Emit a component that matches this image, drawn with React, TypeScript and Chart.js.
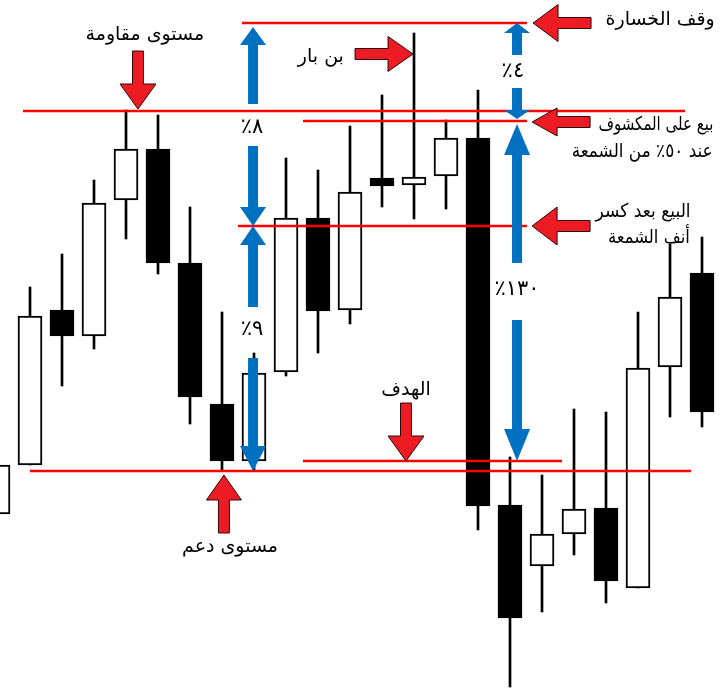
import React, { useEffect, useRef } from "react";
import { Chart, registerables } from "chart.js";

Chart.register(...registerables);

// ---- candle data (price units) ----
const opens = [17.6, 22.5, 38.0, 35.4, 49.0, 54.1, 42.7, 28.6, 22.9, 31.8, 47.2, 38.0, 51.2, 50.5, 51.4, 55.2, 18.5, 12.4, 15.6, 18.2, 10.2, 32.3, 41.7];
const closes = [22.5, 37.4, 35.4, 48.7, 54.1, 42.7, 29.3, 22.9, 31.7, 47.2, 37.9, 49.8, 50.4, 51.3, 55.2, 18.4, 7.2, 15.6, 18.1, 10.9, 32.2, 39.3, 27.8];
const highs = [22.5, 40.3, 43.6, 51.0, 58.0, 57.5, 48.3, 37.8, 33.7, 53.2, 52.0, 56.4, 59.5, 65.7, 57.0, 60.0, 23.3, 21.5, 28.1, 27.8, 37.8, 44.6, 45.3];
const lows = [17.6, 22.5, 30.4, 34.1, 45.1, 41.6, 26.6, 21.9, 21.9, 31.4, 33.7, 36.6, 48.3, 47.1, 48.1, 16.0, 0.3, 7.8, 13.5, 8.7, 10.2, 27.3, 26.3];

// ---- horizontal levels: price, from index, to index ----
const levelNames = ["وقف الخسارة", "مستوى مقاومة", "بيع على المكشوف", "البيع بعد كسر", "الهدف", "مستوى دعم"];
const levelPrices = [66.7, 57.9, 56.9, 46.4, 22.9, 21.9];
const levelFrom = [7.625, 0.78, 9.53, 7.5, 9.53, 1.0];
const levelTo = [16.53, 21.47, 16.53, 16.53, 17.625, 21.66];

// ---- red callout arrows: tip (index, price) and direction ----
const redArrowTipX = [4.375, 12.97, 16.72, 16.69, 16.69, 12.75, 7.06];
const redArrowTipY = [58.1, 63.6, 66.7, 56.8, 46.4, 22.9, 21.5];
const redArrowDir = ["down", "right", "left", "left", "left", "down", "up"];
const redArrowHeadW = [36, 35, 37, 28, 38, 36, 35];

// ---- blue measure arrows: column index, tail price, tip price ----
const blueArrowX = [7.97, 7.97, 7.97, 7.97, 16.22, 16.22, 16.22, 16.22];
const blueArrowTail = [58.6, 54.4, 38.3, 33.2, 63.5, 60.2, 42.7, 37.0];
const blueArrowTip = [66.3, 46.4, 46.4, 21.9, 66.7, 57.1, 56.6, 22.9];
const blueArrowHead = [18, 19, 19, 25, 10, 9, 31, 32];

// ---- percentage labels ----
const pctLabels = ["٨٪", "٩٪", "٤٪", "١٣٠٪"];
const pctX = [7.94, 7.94, 16.09, 16.22];
const pctY = [56.2, 36.0, 61.8, 40.0];

// ---- text notes ----
const noteTexts = ["مستوى مقاومة", "بن بار", "وقف الخسارة", "بيع على المكشوف", "عند ٥٠٪ من الشمعة", "البيع بعد كسر", "أنف الشمعة", "الهدف", "مستوى دعم"];
const noteX = [4.59, 10.09, 20.69, 20.56, 20.13, 20.16, 20.34, 12.75, 7.25];
const noteY = [65.5, 63.3, 67.0, 56.5, 53.8, 47.8, 45.2, 30.0, 14.3];
const noteMaxW = [124, 50, 115, 115, 141, 95, 82, 52, 100];

const RED = "#ff0000";
const ARROW_RED = "#ED1C24";
const BLUE = "#0070C0";
const FONT = '"DejaVu Sans", sans-serif';

function drawRedArrow(ctx, x, y, dir, headW) {
  const len = 58;
  const headL = 25;
  const shaftW = 11;
  ctx.save();
  ctx.translate(x, y);
  const rot = { right: 0, down: Math.PI / 2, left: Math.PI, up: -Math.PI / 2 }[dir];
  ctx.rotate(rot);
  ctx.beginPath();
  ctx.moveTo(0, 0);
  ctx.lineTo(-headL, -headW / 2);
  ctx.lineTo(-headL, -shaftW / 2);
  ctx.lineTo(-len, -shaftW / 2);
  ctx.lineTo(-len, shaftW / 2);
  ctx.lineTo(-headL, shaftW / 2);
  ctx.lineTo(-headL, headW / 2);
  ctx.closePath();
  ctx.fillStyle = ARROW_RED;
  ctx.fill();
  ctx.lineWidth = 1;
  ctx.strokeStyle = "#2a0a0a";
  ctx.stroke();
  ctx.restore();
}

function drawBlueArrow(ctx, x, yTail, yTip, headL) {
  const headW = 26;
  const shaftW = 10;
  const s = yTip < yTail ? 1 : -1;
  ctx.save();
  ctx.fillStyle = BLUE;
  ctx.beginPath();
  const yHeadBase = yTip + s * headL;
  ctx.moveTo(x, yTip);
  ctx.lineTo(x + headW / 2, yHeadBase);
  ctx.lineTo(x + shaftW / 2, yHeadBase);
  ctx.lineTo(x + shaftW / 2, yTail);
  ctx.lineTo(x - shaftW / 2, yTail);
  ctx.lineTo(x - shaftW / 2, yHeadBase);
  ctx.lineTo(x - headW / 2, yHeadBase);
  ctx.closePath();
  ctx.fill();
  ctx.restore();
}

function drawFittedText(ctx, text, x, y, maxW) {
  const w = ctx.measureText(text).width;
  const s = w > maxW ? maxW / w : 1;
  ctx.save();
  ctx.translate(x, y);
  ctx.scale(s, 1);
  ctx.fillText(text, 0, 0);
  ctx.restore();
}

const annotationPlugin = {
  id: "annotations",
  afterDatasetsDraw(chart) {
    const { ctx } = chart;
    const xs = chart.scales.x;
    const ys = chart.scales.y;
    for (let i = 0; i < blueArrowX.length; i++) {
      drawBlueArrow(ctx, xs.getPixelForValue(blueArrowX[i]), ys.getPixelForValue(blueArrowTail[i]), ys.getPixelForValue(blueArrowTip[i]), blueArrowHead[i]);
    }
    for (let i = 0; i < redArrowTipX.length; i++) {
      drawRedArrow(ctx, xs.getPixelForValue(redArrowTipX[i]), ys.getPixelForValue(redArrowTipY[i]), redArrowDir[i], redArrowHeadW[i]);
    }
    ctx.save();
    ctx.fillStyle = "#000";
    ctx.textAlign = "center";
    ctx.textBaseline = "middle";
    ctx.direction = "rtl";
    ctx.font = `19px ${FONT}`;
    for (let i = 0; i < noteTexts.length; i++) {
      drawFittedText(ctx, noteTexts[i], xs.getPixelForValue(noteX[i]), ys.getPixelForValue(noteY[i]), noteMaxW[i]);
    }
    ctx.font = `21px ${FONT}`;
    for (let i = 0; i < pctLabels.length; i++) {
      ctx.fillText(pctLabels[i], xs.getPixelForValue(pctX[i]), ys.getPixelForValue(pctY[i]));
    }
    ctx.restore();
  },
};

export default function App() {
  const ref = useRef(null);
  useEffect(() => {
    document.body.style.margin = "0";
    const idx = opens.map((_, i) => i);
    const bodies = idx.map((i) => ({ x: i, y: [opens[i], closes[i]] }));
    const wicks = idx.map((i) => ({ x: i, y: [lows[i], highs[i]] }));
    const bull = idx.map((i) => closes[i] >= opens[i]);
    const lineSets = levelPrices.map((p, i) => ({
      type: "line",
      label: levelNames[i],
      data: [
        { x: levelFrom[i], y: p },
        { x: levelTo[i], y: p },
      ],
      borderColor: RED,
      borderWidth: 2.5,
      pointRadius: 0,
      order: 0,
    }));
    const chart = new Chart(ref.current, {
      type: "bar",
      data: {
        datasets: [
          ...lineSets,
          {
            type: "bar",
            label: "body",
            data: bodies,
            backgroundColor: bull.map((b) => (b ? "#ffffff" : "#000000")),
            borderColor: "#000000",
            borderWidth: 2,
            borderSkipped: false,
            barThickness: 24,
            grouped: false,
            order: 1,
          },
          {
            type: "bar",
            label: "wick",
            data: wicks,
            backgroundColor: "#000000",
            borderWidth: 0,
            barThickness: 2,
            grouped: false,
            order: 2,
          },
        ],
      },
      options: {
        animation: false,
        responsive: false,
        maintainAspectRatio: false,
        layout: { padding: 0 },
        plugins: { legend: { display: false }, tooltip: { enabled: false } },
        scales: {
          x: { type: "linear", min: 0.0625, max: 22.6875, offset: false, display: false },
          y: { type: "linear", min: 0, max: 69, display: false },
        },
      },
      plugins: [annotationPlugin],
    });
    return () => chart.destroy();
  }, []);
  return (
    <div style={{ width: 724, height: 690, background: "#fff" }}>
      <canvas ref={ref} width={724} height={690} />
    </div>
  );
}
